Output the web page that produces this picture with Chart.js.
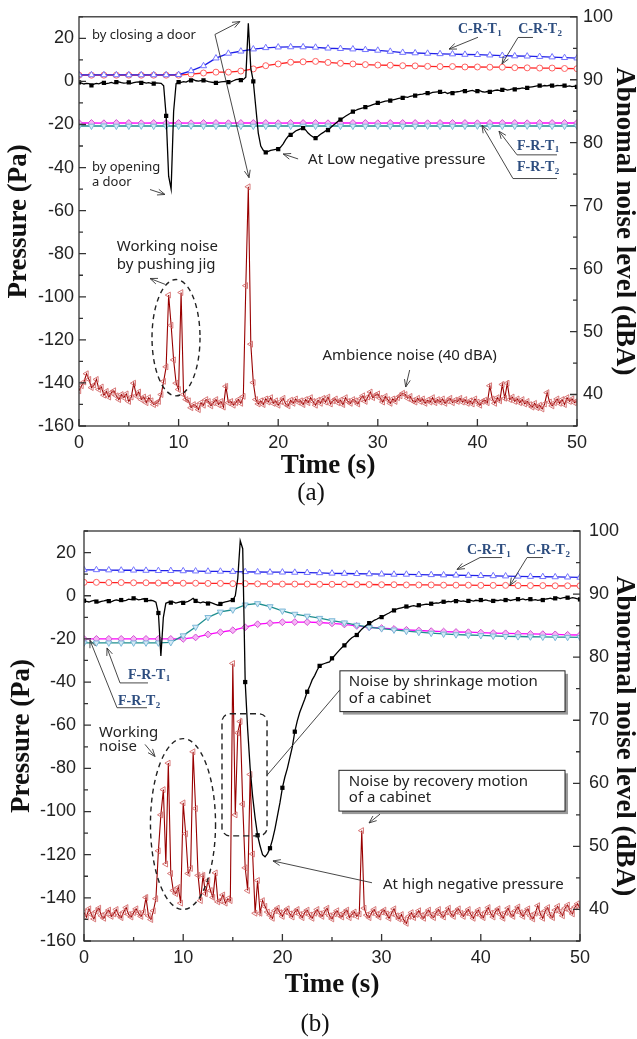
<!DOCTYPE html>
<html>
<head>
<meta charset="utf-8">
<script src="https://cdn.jsdelivr.net/npm/chart.js@4.4.0/dist/chart.umd.min.js"></script>
<style>
    body { margin: 0; background: #fff; }
    #wrapA { position: absolute; left: 0; top: 0; width: 637px; height: 520px; }
    #wrapB { position: absolute; left: 0; top: 500px; width: 637px; height: 539px; }
</style>
</head>
<body>
<div id="wrapA"><canvas id="chartA" width="637" height="520"></canvas></div>
<div id="wrapB"><canvas id="chartB" width="637" height="539"></canvas></div>
<script>
// sample spacing (s)
const STEP_FINE = 0.25;    // pressure + noise
const STEP_COARSE = 1.25;  // C-R / F-R sensors

// ---------- panel (a) ----------
const pressureA = [
    -0.5, -0.8, -1.2, -0.9, -1.0, -1.8, -1.3, -0.9, -1.1, -0.6, -0.7, -1.0, -0.8, -0.5, -0.9, -0.3,
    -0.2, -0.6, -0.8, -0.7, -0.4, -0.9, -0.6, -0.3, -0.2, -0.7, -0.5, -0.8, -0.6, -0.9, -1.0, -0.7, -0.8,
    -0.9, -2.0, -16, -44, -50, -14, -1.0, -0.3,
    -0.4, -0.1, -0.3, 0.2, 0.5, 0.8, 0.3, 0.1, 0.4, 0.5, 0.2, -0.1, -0.3, -0.5, -0.7, -0.4,
    -0.2, -0.1, 0.0, -0.3, -0.2, 0.3, 0.8, 1.0, 0.6, 0.9,
    2.0, 27, 6.0, 0.0, -12, -24, -30, -32, -33, -32.5, -32, -31.8, -31.6, -31.4,
    -30.5, -29, -27, -25.5, -24.8, -24, -23, -22.5,
    -22, -21.7, -22.5, -24, -25, -25.8, -26.3, -25.5,
    -24.5, -23.8, -23, -22.6, -21.5, -20.5, -19.5, -18.5,
    -17.8, -17, -16.2, -15.5, -14.8, -14, -13.5, -13,
    -12.6, -12.3, -11.9, -11.6, -11.2, -10.8, -10.4, -10,
    -9.8, -9.5, -9.2, -9.0, -8.9, -8.6, -8.3, -8.0,
    -7.8, -7.6, -7.2, -7.4, -6.9, -6.7, -6.6, -6.3,
    -6.0, -5.9, -5.6, -5.4, -5.5, -5.1, -5.0, -4.9,
    -4.9, -5.3, -5.0, -5.6, -5.2, -5.4, -5.0, -4.8,
    -4.6, -4.3, -4.5, -4.7, -4.4, -4.2, -4.6, -4.5,
    -4.3, -4.8, -5.0, -4.7, -4.9, -4.5, -4.2, -4.0,
    -4.3, -3.9, -3.6, -4.0, -3.8, -3.5, -3.7, -3.4,
    -3.3, -3.0, -3.2, -3.0, -2.7, -2.5, -2.3, -2.1,
    -2.0, -2.2, -1.9, -2.1, -1.8, -2.0, -2.2, -1.9,
    -2.0, -1.8, -2.0, -2.3, -2.1, -2.4, -2.2, -2.5
];
const crt1A = [3.0, 3.0, 3.0, 3.0, 3.0, 3.0, 3.0, 3.0, 3.1, 4.9, 7.2, 10.8, 13, 14, 15, 15.6, 15.9, 16, 16, 15.8,
    15.4, 15.2, 15, 14.7, 14.4, 13.9, 13.4, 13.2, 13, 12.8, 12.7, 12.5, 12.4, 12.2, 12, 11.8, 11.7, 11.5, 11.3, 11, 10.8];
const crt2A = [2.9, 2.9, 2.9, 2.9, 2.9, 2.9, 2.9, 2.9, 2.9, 3.4, 3.9, 4.3, 4.3, 4.8, 5.8, 7.3, 8.1, 8.9, 9.1, 9.3,
    8.8, 8.4, 8.1, 7.8, 7.6, 7.5, 7.3, 7.2, 7.0, 6.9, 6.9, 6.7, 6.7, 6.6, 6.6, 6.4, 6.3, 6.2, 6.2, 6.0, 5.9];
const frt1A = [-20.7, -20.7, -20.6, -20.7, -20.7, -20.6, -20.7, -20.7, -20.7, -20.6, -20.7, -20.7, -20.6, -20.7,
    -20.7, -20.7, -20.6, -20.7, -20.7, -20.7, -20.6, -20.7, -20.7, -20.7, -20.6, -20.7, -20.7, -20.7, -20.6,
    -20.7, -20.7, -20.7, -20.6, -20.7, -20.7, -20.7, -20.6, -20.7, -20.7, -20.7, -20.7];
const frt2A = [-19.3, -19.3, -19.4, -19.3, -19.3, -19.4, -19.3, -19.3, -19.3, -19.4, -19.3, -19.3, -19.4, -19.3,
    -19.3, -19.3, -19.4, -19.3, -19.3, -19.3, -19.4, -19.3, -19.3, -19.3, -19.4, -19.3, -19.3, -19.3, -19.4,
    -19.3, -19.3, -19.3, -19.4, -19.3, -19.3, -19.3, -19.4, -19.3, -19.3, -19.3, -19.3];
const noiseA = [
    40.6, 41.4, 42.0, 43.3, 42.4, 41.1, 41.5, 42.4, 40.8,
    41.2, 39.9, 40.5, 39.6, 40.3, 40.6, 39.8, 39.2,
    40.0, 39.5, 40.1, 38.9, 39.6, 41.8, 39.8, 40.4,
    39.2, 39.6, 38.7, 39.5, 39.0, 38.4, 38.6, 38.9,
    40.0, 42.1, 44.4, 55.8, 51.0, 45.5, 41.8, 40.8, 56.2, 40.0,
    39.2, 39.0, 37.9, 38.4, 38.2, 37.6, 38.7, 38.3,
    39.2, 38.9, 38.2, 38.7, 39.2, 38.4, 38.9, 38.0,
    41.3, 38.7, 38.9, 38.3, 38.7, 39.2, 38.6, 39.7,
    57.3, 73.0, 48.0, 41.9, 39.2,
    38.5, 39.0, 38.4, 39.3, 38.8, 39.5, 38.6, 39.0, 38.3,
    38.9, 39.4, 38.5, 38.2, 39.1, 38.6, 39.3, 38.8,
    39.0, 38.4, 39.2, 38.7, 39.5, 38.9, 38.3, 39.1,
    38.6, 39.4, 38.8, 39.6, 38.5, 39.0, 39.3, 38.7,
    39.1, 38.4, 39.5, 38.9, 38.6, 39.2, 39.0, 38.5,
    39.3, 39.8, 38.9, 39.6, 40.4, 39.5, 39.9, 40.1,
    39.4, 38.8, 39.7, 39.2, 38.6, 39.3, 38.9, 39.5,
    39.8, 40.2, 40.0, 39.4, 39.7, 39.0, 38.8, 39.4,
    38.9, 39.3, 38.6, 39.1, 38.8, 39.5, 38.7, 39.2,
    38.8, 39.3, 38.6, 39.0, 39.4, 38.7, 39.1, 38.9,
    39.4, 38.8, 39.2, 38.6, 39.0, 38.5, 39.3, 38.8,
    38.3, 38.9, 39.1, 38.7, 41.4, 39.3, 38.6, 39.5,
    39.0, 41.6, 39.4, 41.8, 39.2, 39.6, 38.9, 39.3,
    38.7, 39.2, 38.5, 38.9, 38.4, 38.0, 38.6, 37.9,
    38.3, 37.7, 38.5, 40.3, 38.8, 38.2, 38.7, 39.3,
    38.6, 39.2, 38.4, 39.5, 38.9, 39.3, 38.7, 39.0
];

// ---------- panel (b) ----------
const pressureB = [
    -2.3, -2.6, -2.9, -2.5, -2.2, -2.7, -3.0, -2.6, -2.4, -2.1, -2.5, -2.8, -2.3, -1.9, -2.2,
    -2.0, -2.4, -2.1, -1.6, -1.8, -1.2, -1.5, -1.9, -1.7, -1.4, -2.0, -2.3, -2.1, -2.4, -3.0,
    -8, -27.9, -10, -3.5, -3.0,
    -3.2, -2.9, -3.4, -3.1, -2.8, -3.3, -3.0, -2.6, -2.0, -1.2, -2.4, -3.0, -3.3,
    -2.9, -3.2, -3.6, -3.1, -3.5, -4.0, -4.4, -3.8, -3.2, -2.9, -2.6, -2.3, -2.0,
    0, 8, 25.5, 21.8, -40, -62, -80, -93, -103, -111, -116, -120, -121, -119.5, -117, -113, -108, -102, -96, -89,
    -84, -80, -75, -70, -63, -58, -54, -51,
    -48, -44.5, -42, -39, -37, -34.5, -32.5, -31.8,
    -31.4, -31, -30.7, -29, -27.8, -26.5, -25.2, -24.0,
    -23, -21.8, -20.5, -19.5, -18.8, -18.2, -16.8, -15.5,
    -14.5, -13.6, -12.7, -12.2, -11.4, -10.9, -10.3, -9.9,
    -9.2, -8.6, -8.0, -7.3, -6.8, -6.2, -5.9, -5.6,
    -5.3, -5.0, -5.2, -4.8, -4.6, -4.9, -4.4, -4.3,
    -4.1, -3.9, -4.0, -3.7, -3.5, -3.3, -3.4, -3.0,
    -2.8, -2.9, -2.6, -2.8, -2.4, -2.5, -2.3, -2.6,
    -2.4, -2.7, -2.4, -2.2, -2.5, -2.1, -2.3, -2.0,
    -2.2, -1.9, -2.3, -2.5, -2.4, -2.1, -2.3, -1.9,
    -2.1, -2.0, -1.8, -2.2, -1.9, -1.7, -1.6, -1.8,
    -1.5, -1.9, -1.7, -1.6, -2.0, -1.8, -2.1, -1.9,
    -2.0, -1.6, -1.4, -1.1, -1.5, -1.2, -0.9, -1.3,
    -1.0, -0.8, -0.9, -1.2, -0.9, -1.1, -1.4, -1.7
];
const crt1B = [12.0, 12.0, 11.9, 11.8, 11.8, 11.7, 11.6, 11.6, 11.5, 11.4, 11.3, 11.3, 11.2, 11.1, 11.0, 10.9,
    10.9, 10.8, 10.7, 10.6, 10.4, 10.3, 10.2, 10.1, 10.0, 9.9, 9.9, 9.8, 9.7, 9.6, 9.5, 9.4, 9.3, 9.2, 9.1,
    9.0, 8.9, 8.8, 8.7, 8.6, 8.5];
const crt2B = [6.2, 6.2, 6.1, 6.1, 6.0, 6.0, 5.9, 5.9, 5.8, 5.8, 5.7, 5.7, 5.6, 5.6, 5.5, 5.5, 5.4, 5.4, 5.4, 5.3,
    5.3, 5.3, 5.2, 5.2, 5.1, 5.1, 5.0, 5.0, 5.0, 4.9, 4.9, 4.9, 4.8, 4.8, 4.8, 4.7, 4.7, 4.7, 4.6, 4.6, 4.6];
const frt1B = [-21.8, -21.8, -21.8, -21.8, -21.8, -21.8, -21.8, -21.6, -18.5, -14.5, -10, -7.5, -6.5, -4.2, -3.6,
    -5.0, -7.0, -8.5, -9.4, -10.4, -11.5, -12.5, -13.6, -14.6, -15.2, -15.8, -16.4, -16.9, -17.3, -17.7,
    -18.0, -18.2, -18.4, -18.6, -18.8, -18.9, -19.0, -19.1, -19.2, -19.2, -19.3];
const frt2B = [-20.0, -20.0, -20.0, -20.0, -20.0, -20.0, -20.0, -20.0, -20.0, -19.3, -17.9, -16.9, -16.0, -14.6,
    -13.2, -12.7, -12.3, -12.2, -12.2, -12.4, -12.8, -13.3, -14.0, -14.6, -15.0, -15.4, -15.8, -16.1, -16.4,
    -16.6, -16.8, -16.9, -17.1, -17.3, -17.4, -17.6, -17.7, -17.8, -17.9, -18.1, -18.2];
const noiseB = [
    39.5, 38.8, 40.1, 39.2, 38.5, 39.7, 40.2, 39.0, 38.6, 39.4, 39.9, 38.9, 39.3,
    40.0, 39.1, 38.7, 39.6, 40.3, 39.2, 38.8, 39.5, 40.1, 39.4, 38.9, 39.6,
    41.9, 39.0, 38.4, 39.8, 41.7, 49.3, 55.0, 59.0, 47.2, 63.2,
    45.7, 43.0, 42.5, 43.5, 41.0, 56.9, 52.0, 45.7, 46.5, 65.0,
    56.0, 45.4, 41.4, 45.4, 42.5, 44.6, 43.0, 41.9, 45.8, 41.2,
    41.4, 42.3, 41.0, 41.7, 41.4, 79.0, 55.0, 68.0, 69.8, 56.7,
    46.6, 43.0, 61.4, 48.8, 39.4, 44.6, 39.4, 41.4, 40.5, 39.6,
    39.1, 38.6, 39.8, 40.2, 39.5, 38.9,
    39.7, 40.1, 39.3, 38.8, 39.6, 40.0, 39.2, 38.7,
    39.5, 39.9, 39.1, 38.6, 39.4, 40.0, 39.3, 38.9,
    39.6, 40.2, 39.0, 38.5, 39.3, 39.8, 39.1, 38.8,
    39.5, 39.9, 38.7, 39.2, 39.6, 38.9, 39.3, 52.5,
    40.2, 39.1, 38.7, 39.5, 40.0, 39.2, 38.8, 39.6,
    39.9, 39.3, 38.6, 39.4, 40.1, 39.0, 38.5, 39.2,
    38.3, 37.8, 38.9, 39.5, 38.7, 39.2, 39.8, 39.0,
    38.6, 39.4, 39.9, 39.1, 38.7, 39.5, 40.0, 39.2,
    38.8, 39.6, 40.2, 39.3, 38.9, 39.7, 40.1, 39.4,
    38.9, 39.5, 40.0, 39.2, 38.6, 39.4, 39.9, 39.1,
    38.7, 39.6, 40.3, 39.4, 38.8, 39.7, 40.1, 39.2,
    38.6, 39.5, 40.2, 39.3, 38.9, 39.8, 40.4, 39.5,
    38.9, 39.6, 40.1, 39.0, 38.5, 39.4, 40.6, 39.3,
    38.6, 39.8, 40.3, 39.1, 38.7, 39.9, 40.5, 39.6,
    39.0, 40.2, 40.7, 39.8, 39.3, 40.4, 40.9, 40.2
];

// annotations, placed in (time s, pressure Pa) units
const notesA = [
    { k: 'text', t: 1.3, p: 21.4, s: 'by closing a door', size: 13 },
    { k: 'arrow', pts: [[13.65, 21.8], [16.16, 27.8]] },
    { k: 'arrow', pts: [[13.65, 21.8], [17.07, -44.7]] },
    { k: 'text', t: 1.3, p: -40.1, s: 'by opening', size: 13 },
    { k: 'text', t: 1.3, p: -47, s: 'a door', size: 13 },
    { k: 'arrow', pts: [[7.13, -50.2], [8.63, -52.5]] },
    { k: 'text', t: 23, p: -36.4, s: 'At Low negative pressure' },
    { k: 'arrow', pts: [[22.0, -36], [20.5, -33.7]] },
    { k: 'label', t: 38.05, p: 24.1, base: 'C-R-T', sub: '1' },
    { k: 'label', t: 44.1, p: 24.1, base: 'C-R-T', sub: '2' },
    { k: 'arrow', pts: [[40.06, 20.5], [37.15, 15]] },
    { k: 'arrow', pts: [[45.58, 20.4], [44.08, 20.4], [42.47, 8.1]] },
    { k: 'label', t: 43.98, p: -30, base: 'F-R-T', sub: '1' },
    { k: 'label', t: 43.98, p: -40.1, base: 'F-R-T', sub: '2' },
    { k: 'arrow', pts: [[47.99, -34.1], [43.98, -34.1], [42.17, -23.1]] },
    { k: 'arrow', pts: [[47.99, -45.1], [43.57, -45.1], [40.46, -20.4]] },
    { k: 'text', t: 3.8, p: -76.8, s: 'Working noise' },
    { k: 'text', t: 3.8, p: -85, s: 'by pushing jig' },
    { k: 'arrow', pts: [[8.63, -94.2], [7.13, -91.5]] },
    { k: 'ellipse', t: 9.74, p: -119, rt: 2.41, rp: 27 },
    { k: 'text', t: 33.2, p: -127.2, s: 'Ambience noise (40 dBA)', align: 'center' },
    { k: 'arrow', pts: [[33.2, -134], [32.8, -141.9]] }
];
const notesB = [
    { k: 'label', t: 38.6, p: 20.9, base: 'C-R-T', sub: '1' },
    { k: 'label', t: 44.56, p: 20.9, base: 'C-R-T', sub: '2' },
    { k: 'arrow', pts: [[42.14, 17.7], [39.92, 17.7], [37.6, 12.2]] },
    { k: 'arrow', pts: [[46.27, 17.7], [44.66, 17.7], [42.94, 4.8]] },
    { k: 'label', t: 4.44, p: -36.7, base: 'F-R-T', sub: '1' },
    { k: 'label', t: 3.43, p: -49.1, base: 'F-R-T', sub: '2' },
    { k: 'arrow', pts: [[6.45, -40.4], [3.63, -40.4], [2.32, -24.2]] },
    { k: 'arrow', pts: [[6.35, -51.9], [3.33, -51.9], [0.6, -20.6]] },
    { k: 'text', t: 1.51, p: -63.4, s: 'Working' },
    { k: 'text', t: 1.51, p: -69.9, s: 'noise' },
    { k: 'arrow', pts: [[6.15, -68.9], [7.16, -74.5]] },
    { k: 'ellipse', t: 9.98, p: -105.8, rt: 3.28, rp: 39.6 },
    { k: 'drect', t0: 13.91, t1: 18.45, p0: -54.7, p1: -111.3 },
    { k: 'line', pts: [[25.8, -43.6], [18.45, -83.2]] },
    { k: 'box', t0: 25.8, t1: 48.49, p0: -34.8, p1: -53.7, tt: 26.7,
      lines: ['Noise by shrinkage motion', 'of a cabinet'], pl: [-39.9, -47.7] },
    { k: 'box', t0: 25.7, t1: 48.49, p0: -80.9, p1: -99.8, tt: 26.7,
      lines: ['Noise by recovery motion', 'of a cabinet'], pl: [-86, -93.8] },
    { k: 'arrow', pts: [[29.84, -101.2], [28.73, -105.3]] },
    { k: 'text', t: 30.14, p: -133.9, s: 'At high negative pressure' },
    { k: 'arrow', pts: [[29.03, -133], [19.05, -122.9]] }
];

// Helpers
function toXY(arr, step) {
    return arr.map((v, i) => ({ x: +(i * step).toFixed(2), y: v }));
}

function arrowHead(ctx, x0, y0, x1, y1) {
    const ang = Math.atan2(y1 - y0, x1 - x0);
    const len = 8, spread = 0.38;
    ctx.beginPath();
    ctx.moveTo(x1 - len * Math.cos(ang - spread), y1 - len * Math.sin(ang - spread));
    ctx.lineTo(x1, y1);
    ctx.lineTo(x1 - len * Math.cos(ang + spread), y1 - len * Math.sin(ang + spread));
    ctx.stroke();
}

function makeDecor(notes, tag, tagY) {
    return {
        id: 'decor',
        afterDraw(chart) {
            const { ctx, chartArea: a, scales } = chart;
            const X = t => scales.x.getPixelForValue(t);
            const Y = p => scales.y.getPixelForValue(p);
            ctx.save();

            // frame + inward ticks
            ctx.strokeStyle = '#333';
            ctx.lineWidth = 1.3;
            ctx.strokeRect(a.left, a.top, a.right - a.left, a.bottom - a.top);
            ctx.beginPath();
            for (let v = 0; v <= 50; v += 5) {
                const x = X(v), len = v % 10 === 0 ? 7 : 4;
                ctx.moveTo(x, a.bottom); ctx.lineTo(x, a.bottom - len);
            }
            for (let v = -160; v <= 30; v += 10) {
                const y = Y(v), len = v % 20 === 0 ? 7 : 4;
                ctx.moveTo(a.left, y); ctx.lineTo(a.left + len, y);
            }
            for (let v = 35; v <= 100; v += 5) {
                const y = scales.y2.getPixelForValue(v), len = v % 10 === 0 ? 7 : 4;
                ctx.moveTo(a.right, y); ctx.lineTo(a.right - len, y);
            }
            ctx.stroke();

            notes.forEach(n => {
                ctx.setLineDash([]);
                ctx.strokeStyle = '#333';
                ctx.lineWidth = 0.9;
                ctx.textBaseline = 'middle';
                if (n.k === 'text') {
                    ctx.font = (n.size || 15) + 'px "Noto Sans"';
                    ctx.fillStyle = '#222';
                    ctx.textAlign = n.align || 'left';
                    ctx.fillText(n.s, X(n.t), Y(n.p));
                } else if (n.k === 'label') {
                    const x = X(n.t), y = Y(n.p);
                    ctx.fillStyle = '#2d4d7f';
                    ctx.textAlign = 'left';
                    ctx.font = 'bold 14px "Liberation Serif"';
                    ctx.fillText(n.base, x, y);
                    const w = ctx.measureText(n.base).width;
                    ctx.font = 'bold 9px "Liberation Serif"';
                    ctx.fillText(n.sub, x + w + 0.5, y + 4);
                } else if (n.k === 'arrow' || n.k === 'line') {
                    const pts = n.pts.map(([t, p]) => [X(t), Y(p)]);
                    ctx.beginPath();
                    pts.forEach(([x, y], i) => i ? ctx.lineTo(x, y) : ctx.moveTo(x, y));
                    ctx.stroke();
                    if (n.k === 'arrow') {
                        const [x0, y0] = pts[pts.length - 2];
                        const [x1, y1] = pts[pts.length - 1];
                        arrowHead(ctx, x0, y0, x1, y1);
                    }
                } else if (n.k === 'ellipse') {
                    const cx = X(n.t), cy = Y(n.p);
                    const rx = X(n.t + n.rt) - cx, ry = cy - Y(n.p + n.rp);
                    ctx.setLineDash([5, 4]);
                    ctx.lineWidth = 1.4;
                    ctx.strokeStyle = '#222';
                    ctx.beginPath();
                    ctx.ellipse(cx, cy, rx, ry, 0, 0, Math.PI * 2);
                    ctx.stroke();
                } else if (n.k === 'drect') {
                    const x0 = X(n.t0), x1 = X(n.t1), y0 = Y(n.p0), y1 = Y(n.p1), r = 8;
                    ctx.setLineDash([6, 4]);
                    ctx.lineWidth = 1.4;
                    ctx.strokeStyle = '#222';
                    ctx.beginPath();
                    ctx.moveTo(x0 + r, y0);
                    ctx.arcTo(x1, y0, x1, y1, r);
                    ctx.arcTo(x1, y1, x0, y1, r);
                    ctx.arcTo(x0, y1, x0, y0, r);
                    ctx.arcTo(x0, y0, x1, y0, r);
                    ctx.closePath();
                    ctx.stroke();
                } else if (n.k === 'box') {
                    const x0 = X(n.t0), x1 = X(n.t1), y0 = Y(n.p0), y1 = Y(n.p1);
                    ctx.fillStyle = '#9a9a9a';
                    ctx.fillRect(x0 + 3, y0 + 3, x1 - x0, y1 - y0);
                    ctx.fillStyle = '#fff';
                    ctx.fillRect(x0, y0, x1 - x0, y1 - y0);
                    ctx.strokeStyle = '#222';
                    ctx.lineWidth = 1;
                    ctx.strokeRect(x0, y0, x1 - x0, y1 - y0);
                    ctx.font = '15px "Noto Sans"';
                    ctx.fillStyle = '#222';
                    ctx.textAlign = 'left';
                    n.lines.forEach((s, i) => ctx.fillText(s, X(n.tt), Y(n.pl[i])));
                }
            });

            // panel tag
            ctx.font = '25px "Liberation Serif"';
            ctx.fillStyle = '#111';
            ctx.textAlign = 'center';
            ctx.textBaseline = 'middle';
            ctx.fillText(tag, (a.left + a.right) / 2 - 17, tagY);
            ctx.restore();
        }
    };
}

function makeDatasets(p, c1, c2, f1, f2, n) {
    return [
        {
            label: 'Pressure', data: toXY(p, STEP_FINE), yAxisID: 'y',
            borderColor: '#000', borderWidth: 1.3,
            pointStyle: 'rect', pointRadius: ctx => (ctx.dataIndex % 5 === 0 ? 3 : 0),
            pointBackgroundColor: '#000', pointBorderColor: '#000', pointBorderWidth: 0
        },
        {
            label: 'C-R-T1', data: toXY(c1, STEP_COARSE), yAxisID: 'y',
            borderColor: '#1f1fe8', borderWidth: 1.3,
            pointStyle: 'triangle', pointRadius: 3.6,
            pointBackgroundColor: '#fff', pointBorderColor: '#7373ff', pointBorderWidth: 1
        },
        {
            label: 'C-R-T2', data: toXY(c2, STEP_COARSE), yAxisID: 'y',
            borderColor: '#ff2020', borderWidth: 1.3,
            pointStyle: 'circle', pointRadius: 3,
            pointBackgroundColor: '#fff', pointBorderColor: '#ff6060', pointBorderWidth: 1
        },
        {
            label: 'F-R-T1', data: toXY(f1, STEP_COARSE), yAxisID: 'y',
            borderColor: '#1f8f8f', borderWidth: 1.3,
            pointStyle: 'triangle', pointRotation: 180, pointRadius: 3.6,
            pointBackgroundColor: '#d3eaf5', pointBorderColor: '#7db8d8', pointBorderWidth: 1
        },
        {
            label: 'F-R-T2', data: toXY(f2, STEP_COARSE), yAxisID: 'y',
            borderColor: '#ff00ff', borderWidth: 1.3,
            pointStyle: 'rectRot', pointRadius: 3.4,
            pointBackgroundColor: '#f6b4f6', pointBorderColor: '#d24ed2', pointBorderWidth: 1
        },
        {
            label: 'Noise', data: toXY(n, STEP_FINE), yAxisID: 'y2',
            borderColor: '#990000', borderWidth: 1.1,
            pointStyle: 'triangle', pointRotation: -90, pointRadius: 3.4,
            pointBackgroundColor: 'rgba(255,255,255,0)', pointBorderColor: '#d46a6a', pointBorderWidth: 0.9
        }
    ];
}

const tickFont = { family: '"Liberation Sans", Arial, sans-serif', size: 18 };
const titleFont = { family: '"Liberation Serif", "Times New Roman", serif', size: 27, weight: 'bold', lineHeight: 1 };

function renderPanel(canvasId, datasets, geo, notes, tag) {
    return new Chart(document.getElementById(canvasId), {
        type: 'line',
        data: { datasets },
        options: {
            responsive: false,
            animation: false,
            events: [],
            layout: { padding: { top: geo.padTop, bottom: geo.padBottom, left: 0, right: 0 } },
            elements: { line: { tension: 0 } },
            plugins: { legend: { display: false }, tooltip: { enabled: false } },
            scales: {
                x: {
                    type: 'linear', min: 0, max: 50,
                    grid: { display: false, drawTicks: false }, border: { display: false },
                    ticks: { stepSize: 10, padding: 6, color: '#222', font: tickFont, maxRotation: 0 },
                    title: { display: true, text: 'Time (s)', color: '#111', font: titleFont, padding: { top: 0, bottom: 0 } },
                    afterFit: s => { s.height = geo.xH; }
                },
                y: {
                    position: 'left', min: -160, max: 30,
                    grid: { display: false, drawTicks: false }, border: { display: false },
                    ticks: { stepSize: 20, includeBounds: false, padding: geo.leftPad, color: '#222', font: tickFont },
                    title: { display: true, text: 'Pressure (Pa)', color: '#111', font: titleFont, padding: { top: geo.leftTitlePad, bottom: 0 } },
                    afterFit: s => { s.width = geo.leftW; }
                },
                y2: {
                    position: 'right', min: 35, max: 100,
                    grid: { display: false, drawTicks: false }, border: { display: false },
                    ticks: { stepSize: 10, includeBounds: false, padding: geo.rightPad, color: '#222', font: tickFont },
                    title: { display: true, text: geo.rightTitle, color: '#111', font: titleFont, padding: { top: 0, bottom: 0 } },
                    afterFit: s => { s.width = geo.rightW; }
                }
            }
        },
        plugins: [makeDecor(notes, tag, geo.tagY)]
    });
}

renderPanel('chartA', makeDatasets(pressureA, crt1A, crt2A, frt1A, frt2A, noiseA), {
    padTop: 12, padBottom: 40.5, xH: 53.5, leftW: 79, rightW: 60,
    leftPad: 5, rightPad: 6, leftTitlePad: 6, rightTitle: 'Abnomal noise level (dBA)', tagY: 493
}, notesA, '(a)');

renderPanel('chartB', makeDatasets(pressureB, crt1B, crt2B, frt1B, frt2B, noiseB), {
    padTop: 31, padBottom: 40.5, xH: 57.5, leftW: 84, rightW: 57,
    leftPad: 8, rightPad: 9, leftTitlePad: 9, rightTitle: 'Abnormal noise level (dBA)', tagY: 524
}, notesB, '(b)');
</script>
</body>
</html>
